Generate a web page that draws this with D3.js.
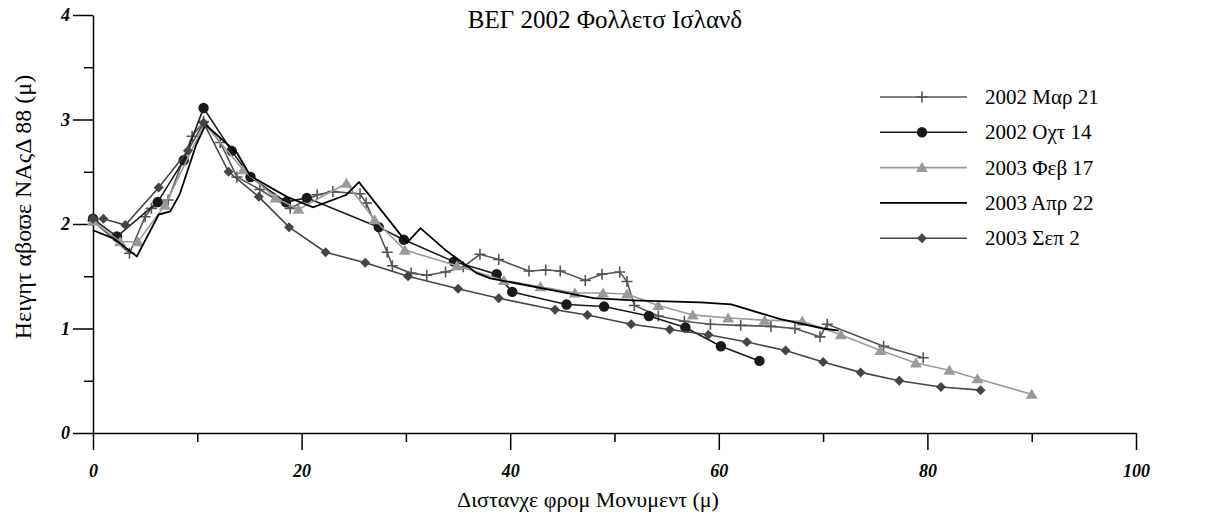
<!DOCTYPE html>
<html lang="en">
<head>
    <meta charset="UTF-8">
    <title>ΒΕΓ 2002 Φολλετσ Ισλανδ</title>
    <script src="https://d3js.org/d3.v7.min.js"></script>
    <style>
        body {
            margin: 0;
            padding: 0;
            background-color: #fff;
            font-family: "Liberation Serif", "DejaVu Serif", serif;
        }
        .tick text {
            font-family: "Liberation Serif", serif;
            font-style: italic;
            font-weight: bold;
            font-size: 18px;
        }
    </style>
</head>
<body>
    <div id="chart"></div>
    <script>
        const width = 1221;
        const height = 520;
        const margin = { top: 15, right: 85, bottom: 87, left: 93 };

        // x = distance from monument (m), y = height (m)
        const mar02X = [0, 3.5, 5.0, 5.6, 7.2, 9.5, 10.6, 12.2, 13.8, 16.0, 18.9, 21.5, 23.0, 25.6, 26.2, 28.2, 28.7, 30.5, 32.0, 33.8, 35.5, 37.1, 38.9, 41.8, 43.4, 44.8, 47.2, 48.8, 50.5, 51.2, 51.9, 54.2, 56.7, 59.2, 62.1, 65.0, 67.3, 69.7, 70.4, 75.8, 79.6];
        const mar02Y = [2.03, 1.72, 2.07, 2.15, 2.23, 2.84, 2.98, 2.78, 2.45, 2.33, 2.15, 2.28, 2.31, 2.29, 2.20, 1.73, 1.60, 1.53, 1.51, 1.54, 1.59, 1.71, 1.66, 1.55, 1.56, 1.55, 1.46, 1.52, 1.54, 1.45, 1.22, 1.12, 1.07, 1.04, 1.03, 1.02, 1.00, 0.92, 1.04, 0.83, 0.72];

        const oct02X = [0, 2.3, 6.2, 8.7, 10.6, 13.3, 15.1, 18.5, 20.5, 27.4, 29.8, 34.6, 38.7, 40.2, 45.4, 49.0, 53.3, 56.8, 60.2, 63.9];
        const oct02Y = [2.05, 1.88, 2.21, 2.61, 3.11, 2.70, 2.45, 2.21, 2.25, 1.97, 1.85, 1.64, 1.52, 1.35, 1.23, 1.21, 1.12, 1.01, 0.83, 0.69];

        const feb03X = [0, 2.6, 4.3, 6.9, 10.7, 14.4, 17.5, 19.7, 24.3, 27.0, 29.9, 34.9, 39.4, 42.9, 46.2, 48.9, 51.2, 54.2, 57.5, 60.9, 64.4, 68.0, 71.7, 75.5, 78.9, 82.1, 84.8, 90.0];
        const feb03Y = [2.03, 1.83, 1.83, 2.18, 2.96, 2.52, 2.25, 2.14, 2.39, 2.04, 1.75, 1.60, 1.46, 1.40, 1.34, 1.34, 1.33, 1.22, 1.13, 1.10, 1.08, 1.07, 0.94, 0.79, 0.67, 0.60, 0.52, 0.37];

        const apr03X = [0, 2.0, 4.2, 6.3, 7.4, 8.3, 9.9, 10.8, 13.8, 15.1, 18.6, 21.1, 24.3, 25.5, 30.1, 31.4, 33.8, 36.8, 38.1, 48.0, 51.8, 58.2, 61.2, 65.9, 70.0, 71.5];
        const apr03Y = [1.94, 1.86, 1.69, 2.09, 2.12, 2.28, 2.76, 2.95, 2.68, 2.46, 2.26, 2.16, 2.28, 2.40, 1.82, 1.96, 1.75, 1.53, 1.48, 1.29, 1.27, 1.25, 1.23, 1.09, 1.00, 0.98];

        const sep03X = [0, 1.0, 3.1, 6.3, 9.1, 10.6, 13.0, 15.9, 18.8, 22.3, 26.1, 30.2, 35.0, 38.9, 44.3, 47.4, 51.6, 55.3, 59.0, 62.7, 66.4, 70.0, 73.6, 77.3, 81.3, 85.1];
        const sep03Y = [2.05, 2.05, 1.99, 2.35, 2.70, 2.97, 2.50, 2.26, 1.97, 1.73, 1.63, 1.50, 1.38, 1.29, 1.18, 1.13, 1.04, 0.99, 0.94, 0.87, 0.79, 0.68, 0.58, 0.50, 0.44, 0.41];

        const seriesNames = ["2002 Μαρ 21", "2002 Οχτ 14", "2003 Φεβ 17", "2003 Απρ 22", "2003 Σεπ 2"];
        const xTicks = [0, 20, 40, 60, 80, 100];
        const yTicks = [0, 1, 2, 3, 4];

        const series = [
            { name: seriesNames[0], xs: mar02X, ys: mar02Y, color: "#555", marker: "cross" },
            { name: seriesNames[1], xs: oct02X, ys: oct02Y, color: "#1a1a1a", marker: "circle" },
            { name: seriesNames[2], xs: feb03X, ys: feb03Y, color: "#9a9a9a", marker: "triangle" },
            { name: seriesNames[3], xs: apr03X, ys: apr03Y, color: "#000", marker: "none" },
            { name: seriesNames[4], xs: sep03X, ys: sep03Y, color: "#454545", marker: "diamond" }
        ];

        const svg = d3.select("#chart")
            .append("svg")
            .attr("width", width)
            .attr("height", height);

        const xScale = d3.scaleLinear().domain([0, 100]).range([margin.left, width - margin.right]);
        const yScale = d3.scaleLinear().domain([0, 4]).range([height - margin.bottom, margin.top]);

        // minor ticks first, majors on top
        svg.append("g")
            .attr("transform", `translate(0,${height - margin.bottom})`)
            .call(d3.axisBottom(xScale).tickValues(d3.range(10, 100, 20)).tickSize(9).tickFormat(""))
            .call(g => g.select(".domain").remove())
            .selectAll("line").attr("stroke-width", 1.5);

        svg.append("g")
            .attr("transform", `translate(${margin.left},0)`)
            .call(d3.axisLeft(yScale).tickValues([0.5, 1.5, 2.5, 3.5]).tickSize(9).tickFormat(""))
            .call(g => g.select(".domain").remove())
            .selectAll("line").attr("stroke-width", 1.5);

        const xAxis = svg.append("g")
            .attr("transform", `translate(0,${height - margin.bottom})`)
            .call(d3.axisBottom(xScale).tickValues(xTicks).tickFormat(d3.format("d"))
                .tickSize(17).tickSizeOuter(0).tickPadding(14));
        xAxis.selectAll("line").attr("stroke-width", 1.5);
        xAxis.select(".domain").attr("stroke-width", 1.5);

        const yAxis = svg.append("g")
            .attr("transform", `translate(${margin.left},0)`)
            .call(d3.axisLeft(yScale).tickValues(yTicks).tickFormat(d3.format("d"))
                .tickSize(20).tickSizeOuter(0).tickPadding(3));
        yAxis.selectAll("line").attr("stroke-width", 1.5);
        yAxis.select(".domain").attr("stroke-width", 1.5);

        // marker shapes
        function markerPath(type) {
            if (type === "cross") return "M-5.5,0H5.5M0,-5.5V5.5";
            if (type === "triangle") return "M0,-5.5L6,4.5L-6,4.5Z";
            if (type === "diamond") return "M0,-5L5,0L0,5L-5,0Z";
            return null;
        }

        function drawMarker(g, type, color, x, y) {
            if (type === "circle") {
                g.append("circle").attr("cx", x).attr("cy", y).attr("r", 5.2).attr("fill", color);
            } else if (type === "cross") {
                g.append("path").attr("d", markerPath(type)).attr("transform", `translate(${x},${y})`)
                    .attr("stroke", color).attr("stroke-width", 1.6).attr("fill", "none");
            } else if (type !== "none") {
                g.append("path").attr("d", markerPath(type)).attr("transform", `translate(${x},${y})`)
                    .attr("fill", color);
            }
        }

        const line = d3.line()
            .x(d => xScale(d[0]))
            .y(d => yScale(d[1]));

        series.forEach(s => {
            const pts = s.xs.map((x, i) => [x, s.ys[i]]);
            svg.append("path")
                .datum(pts)
                .attr("d", line)
                .attr("fill", "none")
                .attr("stroke", s.color)
                .attr("stroke-width", s.marker === "none" ? 1.8 : 1.6);
            const g = svg.append("g");
            pts.forEach(p => drawMarker(g, s.marker, s.color, xScale(p[0]), yScale(p[1])));
        });

        // legend
        const legend = svg.append("g").attr("transform", "translate(880,97)");
        series.forEach((s, i) => {
            const row = legend.append("g").attr("transform", `translate(0,${i * 35.3})`);
            row.append("line")
                .attr("x1", 0).attr("x2", 87)
                .attr("y1", 0).attr("y2", 0)
                .attr("stroke", s.color)
                .attr("stroke-width", s.marker === "none" ? 1.8 : 1.6);
            drawMarker(row, s.marker, s.color, 42, 0);
            row.append("text")
                .attr("x", 105)
                .attr("y", 7)
                .attr("font-size", 21)
                .text(s.name);
        });

        // titles
        svg.append("text")
            .attr("x", 605)
            .attr("y", 28)
            .attr("text-anchor", "middle")
            .attr("font-size", 25)
            .text("ΒΕΓ 2002 Φολλετσ Ισλανδ");

        svg.append("text")
            .attr("x", 588)
            .attr("y", 507)
            .attr("text-anchor", "middle")
            .attr("font-size", 22)
            .text("Διστανχε φρομ Μονυμεντ (μ)");

        svg.append("text")
            .attr("transform", "translate(31,207) rotate(-90)")
            .attr("text-anchor", "middle")
            .attr("font-size", 24)
            .text("Ηειγητ αβοϖε ΝΑςΔ 88 (μ)");
    </script>
</body>
</html>
